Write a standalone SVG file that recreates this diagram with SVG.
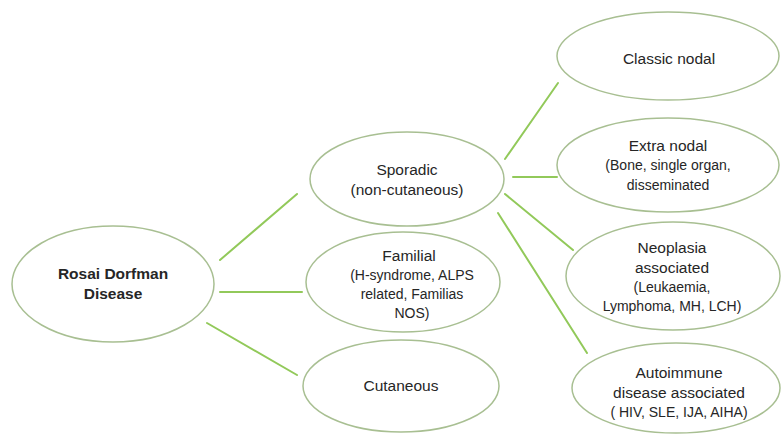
<svg xmlns="http://www.w3.org/2000/svg" width="781" height="434" viewBox="0 0 781 434">
<style>
.node ellipse{fill:#ffffff;stroke:#a8bf92;stroke-width:1.5}
.conn line{stroke:#92c95a;stroke-width:2;stroke-linecap:round}
text{font-family:"Liberation Sans",Arial,sans-serif;fill:#262626;text-anchor:middle}
.t{font-size:15.5px}
.s{font-size:14px}
.b{font-size:15.5px;font-weight:bold}
</style>
<rect width="781" height="434" fill="#ffffff"/>
<g id="connectors" class="conn">
<line x1="220" y1="260" x2="297" y2="194"/>
<line x1="220" y1="292" x2="302" y2="292"/>
<line x1="207" y1="323" x2="297" y2="375"/>
<line x1="505" y1="159" x2="558" y2="83"/>
<line x1="513" y1="177" x2="557" y2="177"/>
<line x1="505" y1="194" x2="573" y2="250"/>
<line x1="498" y1="213" x2="587" y2="353"/>
</g>
<g id="root" class="node">
<ellipse cx="113" cy="284" rx="101" ry="58"/>
<text class="b" x="113" y="279">Rosai Dorfman</text>
<text class="b" x="113" y="299">Disease</text>
</g>
<g id="sporadic" class="node">
<ellipse cx="407" cy="179" rx="97" ry="47"/>
<text class="t" x="407" y="175">Sporadic</text>
<text class="t" x="407" y="195">(non-cutaneous)</text>
</g>
<g id="familial" class="node">
<ellipse cx="403" cy="282" rx="97" ry="50"/>
<text class="t" x="409" y="261">Familial</text>
<text class="s" x="412" y="280">(H-syndrome, ALPS</text>
<text class="s" x="412" y="299">related, Familias</text>
<text class="s" x="412" y="318">NOS)</text>
</g>
<g id="cutaneous" class="node">
<ellipse cx="401" cy="386" rx="98" ry="46"/>
<text class="t" x="401" y="391">Cutaneous</text>
</g>
<g id="classic" class="node">
<ellipse cx="668" cy="56" rx="111" ry="44"/>
<text class="t" x="669" y="64">Classic nodal</text>
</g>
<g id="extranodal" class="node">
<ellipse cx="668" cy="165" rx="111" ry="47"/>
<text class="t" x="668" y="151">Extra nodal</text>
<text class="s" x="668" y="170">(Bone, single organ,</text>
<text class="s" x="668" y="190">disseminated</text>
</g>
<g id="neoplasia" class="node">
<ellipse cx="673" cy="276" rx="107" ry="54"/>
<text class="t" x="672" y="253">Neoplasia</text>
<text class="t" x="672" y="273">associated</text>
<text class="s" x="672" y="292">(Leukaemia,</text>
<text class="s" x="672" y="311">Lymphoma, MH, LCH)</text>
</g>
<g id="autoimmune" class="node">
<ellipse cx="676" cy="388" rx="104" ry="45"/>
<text class="t" x="679" y="378">Autoimmune</text>
<text class="t" x="679" y="398">disease associated</text>
<text class="s" x="679" y="417">( HIV, SLE, IJA, AIHA)</text>
</g>
</svg>
